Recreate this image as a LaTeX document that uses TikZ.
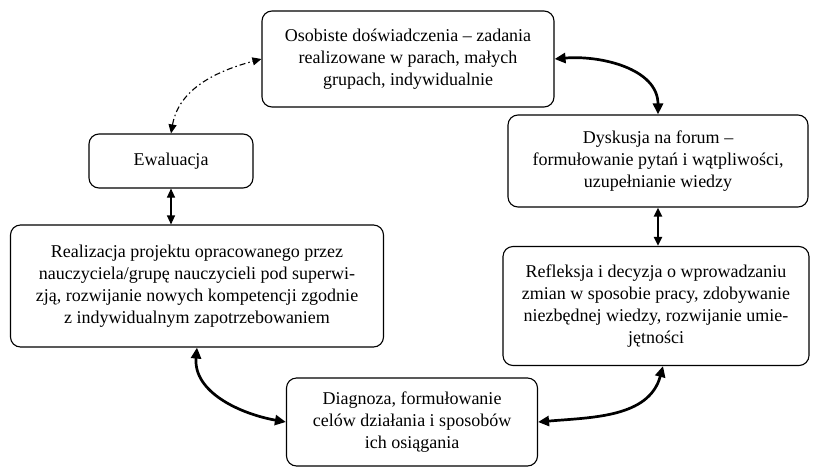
\documentclass[tikz,border=0pt]{standalone}
\usepackage{fontspec}
\setmainfont{Liberation Serif}
\usetikzlibrary{arrows.meta}

\begin{document}
\begin{tikzpicture}[x=1pt,y=-1pt,
		box/.style={draw,rounded corners=10pt,line width=1.1pt,align=center,
			font=\fontsize{18}{22}\selectfont,inner sep=0pt},
		bothway/.style={{Triangle[length=9pt,width=8pt]}-{Triangle[length=9pt,width=8pt]}},
		heavy/.style={{Triangle[length=11pt,width=10pt]}-{Triangle[length=11pt,width=10pt]},line width=2.7pt},
		light/.style={bothway,line width=1.1pt}]
					\useasboundingbox (0,0) rectangle (813,469);
					\node[box,minimum width=292pt,minimum height=96pt] (osobiste) at (408,59)
						{Osobiste doświadczenia – zadania\\realizowane w parach, małych\\grupach, indywidualnie};
					\node[box,minimum width=164pt,minimum height=54pt] (ewaluacja) at (171,161) {Ewaluacja};
					\node[box,minimum width=300pt,minimum height=92pt] (dyskusja) at (658,161)
						{Dyskusja na forum –\\formułowanie pytań i wątpliwości,\\uzupełnianie wiedzy};
					\node[box,minimum width=373pt,minimum height=122pt] (realizacja) at (197,286)
						{Realizacja projektu opracowanego przez\\nauczyciela/grupę nauczycieli pod superwi-\\zją, rozwijanie nowych kompetencji zgodnie\\z indywidualnym zapotrzebowaniem};
					\node[box,minimum width=306pt,minimum height=119pt] (refleksja) at (656,306)
						{Refleksja i decyzja o wprowadzaniu\\zmian w sposobie pracy, zdobywanie\\niezbędnej wiedzy, rozwijanie umie-\\jętności};
					\node[box,minimum width=251pt,minimum height=88pt] (diagnoza) at (412,422)
						{Diagnoza, formułowanie\\celów działania i sposobów\\ich osiągania};
					% strzalki
					\draw[light,dash pattern=on 6pt off 3pt on 1.5pt off 3pt] (ewaluacja.north) to[out=80,in=195] (osobiste.west);
					\draw[light] (ewaluacja.south) -- (ewaluacja.south |- realizacja.north);
					\draw[heavy] (osobiste.east) to[out=5,in=90] (dyskusja.north);
					\draw[bothway,line width=2.3pt] (dyskusja.south) -- (dyskusja.south |- refleksja.north);
					\draw[heavy] ([xshift=7pt]refleksja.south) to[out=-105,in=5] (diagnoza.east);
					\draw[heavy] (realizacja.south) to[out=-95,in=170] (diagnoza.west);
				\end{tikzpicture}
\end{document}
